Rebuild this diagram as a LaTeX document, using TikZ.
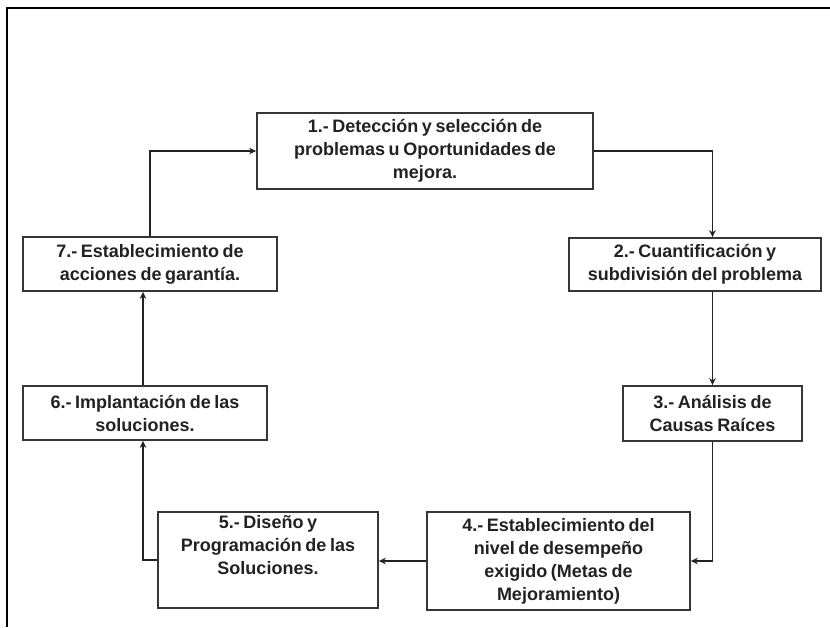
\documentclass[tikz,border=0pt]{standalone}
\usepackage{fontspec}
\setmainfont{Liberation Sans}
\usetikzlibrary{arrows.meta}
\definecolor{ink}{HTML}{222222}
\definecolor{edge}{HTML}{363636}
% bold label face with slightly tight word spacing
\newcommand{\boxface}{\fontsize{18}{23}\selectfont\bfseries\spaceskip=0.2em plus 0.1em\relax}
\begin{document}
\begin{tikzpicture}[x=1pt,y=-1pt,
  stepbox/.style={draw=edge, line width=1.8pt, fill=white, align=center,
    font=\boxface, text=ink, inner sep=2pt},
  arr/.style={draw=ink, line width=1.6pt, -{Stealth[length=7pt,width=6.5pt]}}]
  \useasboundingbox (0,0) rectangle (830,627);
  % frame
  \draw[line width=1.4pt] (830,8) -- (7,8) -- (7,627);

  \node[stepbox, minimum width=336pt, minimum height=76pt] (b1) at (425,151)
    {1.- Detección y selección de\\problemas u Oportunidades de\\mejora.};
  \node[stepbox, minimum width=252pt, minimum height=53pt] (b2) at (695,264.5)
    {2.- Cuantificación y\\subdivisión del problema};
  \node[stepbox, minimum width=179pt, minimum height=55pt] (b3) at (712.5,413.5)
    {3.- Análisis de\\Causas Raíces};
  \node[stepbox, minimum width=263pt, minimum height=98pt] (b4) at (558.5,561)
    {4.- Establecimiento del\\nivel de desempeño\\exigido (Metas de\\Mejoramiento)};
  \node[stepbox, minimum width=220pt, minimum height=96pt] (b5) at (268,560)
    {5.- Diseño y\\Programación de las\\Soluciones.\\\strut};
  \node[stepbox, minimum width=244pt, minimum height=54pt] (b6) at (145,413)
    {6.- Implantación de las\\soluciones.};
  \node[stepbox, minimum width=254pt, minimum height=54pt] (b7) at (150,264)
    {7.- Establecimiento de\\acciones de garantía.};

  \draw[arr] (b1.east) -| (b2.north -| b3.north);
  \draw[arr] (b2.south -| b3.north) -- (b3.north);
  \draw[arr] (b3.south) |- (b4.east);
  \draw[arr] (b4.west) -- (b4.west -| b5.east);
  \draw[arr] (b5.west) -| ([xshift=-2pt]b6.south);
  \draw[arr] ([xshift=-2pt]b6.north) -- ([xshift=-2pt]b6.north |- b7.south);
  \draw[arr] (b7.north) |- (b1.west);
\end{tikzpicture}
\end{document}
